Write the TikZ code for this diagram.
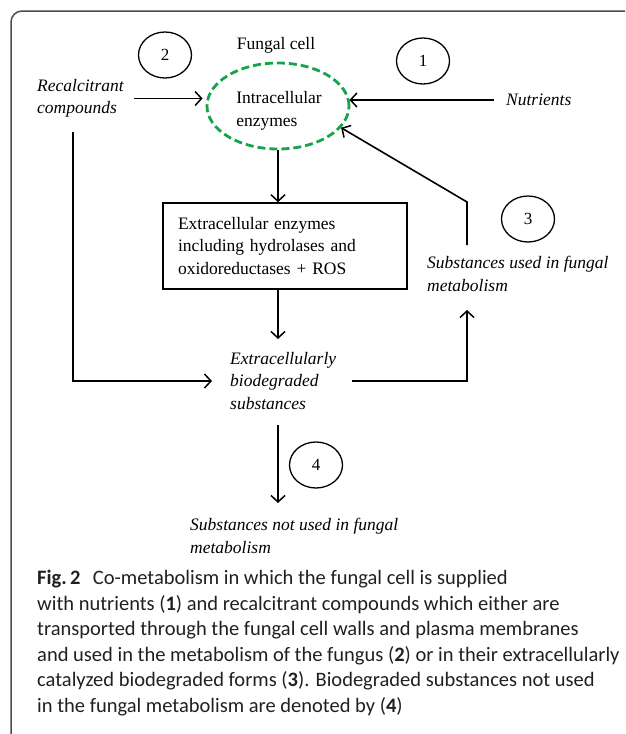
\documentclass[tikz,border=0pt]{standalone}
\usepackage{fontspec}
\setmainfont{Liberation Serif}
\newfontfamily\capfont{Carlito}
\usetikzlibrary{arrows.meta,shapes.geometric}
\definecolor{cellgreen}{RGB}{22,163,74}
\definecolor{captxt}{RGB}{35,31,32}
\begin{document}
\begin{tikzpicture}[x=1pt,y=-1pt,
  lbl/.style={font=\fontsize{17.5}{22.5}\selectfont, inner sep=2pt, align=left},
  ilbl/.style={lbl, font=\fontsize{17.5}{22.5}\selectfont\itshape},
  numc/.style={ellipse, draw, line width=1.3pt, minimum width=53pt, minimum height=46pt, inner sep=0pt, font=\fontsize{17}{20}\selectfont},
  conn/.style={line width=1.6pt},
  arr/.style={conn, -{Straight Barb[length=6.5pt,width=14pt,line width=1.5pt]}}
]
\useasboundingbox (0,0) rectangle (625,734);
\begin{scope}
\clip (0,0) rectangle (625,734);
\draw[line width=1.5pt, draw=black!70, rounded corners=11pt] (700,11) -- (11,11) -- (11,744) -- (40,744);
\end{scope}

% nodes
\node[numc] (n2) at (165,55) {2};
\node[lbl] (fc) at (276,45) {Fungal cell};
\node[numc] (n1) at (423,61) {1};
\node[ellipse, draw=cellgreen, dash pattern=on 8pt off 4pt, line width=2.8pt, minimum width=142pt, minimum height=86pt] (cell) at (278,106) {};
\node[lbl] (celltxt) at (279,111) {Intracellular\\enzymes};
\node[ilbl, anchor=west] (rec) at (35,98.5) {Recalcitrant\\compounds};
\node[ilbl, anchor=west] (nut) at (504,100) {Nutrients};
\node[lbl, draw, line width=1.5pt, minimum width=244pt, minimum height=86pt, text width=214pt, inner xsep=15pt] (box) at (285,246) {Extracellular enzymes\\including hydrolases and\\oxidoreductases + ROS};
\node[ilbl, anchor=west] (used) at (425,274) {Substances used in fungal\\metabolism};
\node[numc] (n3) at (528,219) {3};
\node[ilbl, anchor=west] (ext) at (228,381) {Extracellularly\\biodegraded\\substances};
\node[numc] (n4) at (316,465) {4};
\node[ilbl, anchor=west] (notused) at (188,536) {Substances not used in fungal\\metabolism};

% free ends
\coordinate (lft) at (73,132);
\coordinate (usedin) at (467,310);
\coordinate (ubot) at (467,245);
\coordinate (ubend) at (467,202);
\coordinate (extout) at (278,425);
\coordinate (notin) at (278,503);
\coordinate (extin) at (278,339);

% connectors
\draw[arr] ([xshift=8pt]rec.east) -- ([xshift=-3pt]rec.east -| cell.west);
\draw[arr] ([xshift=-10pt]nut.west) -- ([xshift=-1pt]nut.west -| cell.east);
\draw[arr] (cell.south) -- (cell.south |- box.north);
\draw[arr] (box.south -| cell.south) -- (extin);
\draw[arr] (lft) |- ([xshift=-16pt]ext.west);
\draw[arr] ([xshift=14pt]ext.east) -| (usedin);
\draw[arr] (ubot) -- (ubend) -- (cell.-19);
\draw[arr] (extout) -- (notin);

% caption
\node[anchor=north west, inner sep=0pt, align=left, text=captxt, font=\capfont\fontsize{20.5}{25.6}\selectfont] (cap) at (37,570) {\textbf{Fig.\,2}\hspace{0.6em}Co-metabolism in which the fungal cell is supplied\\with nutrients (\textbf{1}) and recalcitrant compounds which either are\\transported through the fungal cell walls and plasma membranes\\and used in the metabolism of the fungus (\textbf{2}) or in their extracellularly\\catalyzed biodegraded forms (\textbf{3}). Biodegraded substances not used\\in the fungal metabolism are denoted by (\textbf{4})};
\end{tikzpicture}
\end{document}
